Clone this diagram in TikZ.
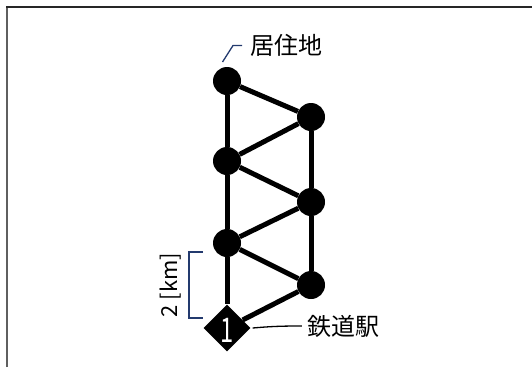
\documentclass[tikz,border=0pt]{standalone}
\usepackage{fontspec}
\setmainfont{Noto Sans CJK JP}
\usetikzlibrary{shapes.geometric}
\definecolor{navy}{RGB}{35,58,110}
\definecolor{frameline}{RGB}{95,95,95}
\tikzset{
  stop/.style={circle,fill=black,minimum size=28pt,inner sep=0pt},
  station/.style={diamond,fill=black,minimum width=47pt,minimum height=47pt,inner sep=0pt},
  link/.style={line width=5pt,draw=black},
  lead/.style={draw=#1,line width=1.3pt},
  lead/.default=navy,
  tag/.style={font=\fontsize{24}{24}\selectfont,inner sep=0pt},
  num/.style={text=white,font=\fontsize{34}{34}\selectfont,inner sep=0pt},
}

\begin{document}
\begin{tikzpicture}[x=1pt,y=-1pt]
  \useasboundingbox (0,0) rectangle (532,367);
  % frame
  \draw[frameline,line width=1.2pt] (7,367) -- (7,7);
  \draw[black!85,line width=1.4pt] (6.4,7) -- (532,7);
  % stops
  \node[station] (s) at (227,328) {};
  \node[stop] (l1) at (227,81) {};
  \node[stop] (l2) at (227,161) {};
  \node[stop] (l3) at (227,243) {};
  \node[stop] (r1) at (311,117) {};
  \node[stop] (r2) at (311,202) {};
  \node[stop] (r3) at (311,285) {};
  \foreach \a/\b in {l1/l2,l2/l3,l3/s,r1/r2,r2/r3,l1/r1,r1/l2,l2/r2,r2/l3,l3/r3,r3/s}
    \draw[link] (\a) -- (\b);
  \node[num] (one) at (227,330.5) {\scalebox{0.7}[1]{1}};
  % labels
  \node[tag] (home) at (286,45) {居住地};
  \coordinate (homept) at (222.5,62);
  \draw[lead] (homept) -- ++(10.5,-16.5) -- ++(9,0);
  \node[tag] (stn) at (343,326) {鉄道駅};
  \draw[lead=black] ([xshift=2pt]s.east) to[out=5,in=180] ([xshift=-5pt]stn.west);
  % scale
  \draw[lead] (203,252) -- (189,252) -- (189,318) -- (203,318);
  \node[tag,font=\fontsize{22}{22}\selectfont,rotate=90] (dist) at (171,285) {2 [km]};
\end{tikzpicture}
\end{document}
